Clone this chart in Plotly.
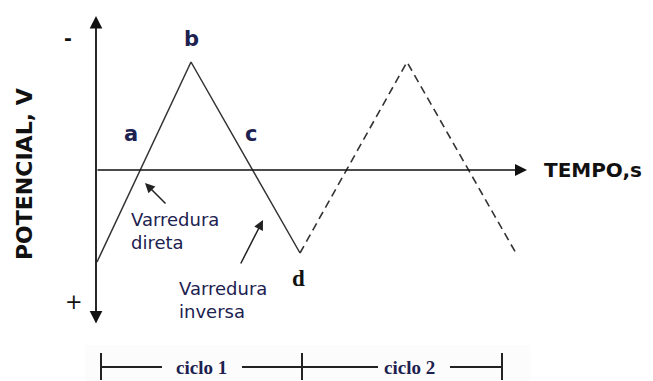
import plotly.graph_objects as go

# voltametria ciclica - onda triangular (tempo em s, potencial com eixo invertido)
cycle1_t = [0.02, 1.90, 4.08]
cycle1_E = [1.84, -2.16, 1.66]
cycle2_t = [4.08, 6.22, 8.42]
cycle2_E = [1.66, -2.16, 1.70]

point_labels = ['a', 'b', 'c', 'd']
point_t = [0.70, 1.90, 3.10, 4.04]
point_E = [-0.72, -2.62, -0.72, 2.16]
point_fonts = ['DejaVu Sans', 'DejaVu Sans', 'DejaVu Sans', 'Liberation Serif']

cycle_names = ['ciclo 1', 'ciclo 2']
cycle_bounds = [0.10, 4.12, 8.12]
cycle_text_t = [2.10, 6.26]
cycle_E = 3.94

X_RANGE = [-1.92, 11.14]
Y_RANGE = [4.22, -3.40]

ink = '#111111'
blue_ink = '#1c2150'

fig = go.Figure()
fig.add_trace(go.Scatter(x=cycle1_t, y=cycle1_E, mode='lines',
                         line=dict(color='#333333', width=1.5)))
fig.add_trace(go.Scatter(x=cycle2_t, y=cycle2_E, mode='lines',
                         line=dict(color='#333333', width=1.6, dash='8px,5px')))

# barra dos ciclos
seg_x = [cycle_bounds[0], cycle_text_t[0] - 0.78, None,
         cycle_text_t[0] + 0.82, cycle_text_t[1] - 0.62, None,
         cycle_text_t[1] + 0.82, cycle_bounds[2]]
seg_y = [cycle_E if v is not None else None for v in seg_x]
fig.add_trace(go.Scatter(x=seg_x, y=seg_y, mode='lines',
                         line=dict(color='#222222', width=1.8)))
tick_x, tick_y = [], []
for b in cycle_bounds:
    tick_x += [b, b, None]
    tick_y += [cycle_E - 0.28, cycle_E + 0.26, None]
fig.add_trace(go.Scatter(x=tick_x, y=tick_y, mode='lines',
                         line=dict(color='#222222', width=2)))

shapes = [dict(type='rect', xref='x', yref='y', x0=-0.22, x1=8.68, y0=3.5, y1=4.3,
               fillcolor='#fcfcfc', line=dict(width=0), layer='below')]

ann = []
# eixos com setas
ann.append(dict(x=0, y=-3.08, ax=0, ay=3.10, xref='x', yref='y', axref='x', ayref='y',
                showarrow=True, arrowhead=2, startarrowhead=2, arrowside='end+start',
                arrowsize=1.4, startarrowsize=1.4, arrowwidth=1.8, arrowcolor=ink, text=''))
ann.append(dict(x=8.62, y=0, ax=0, ay=0, xref='x', yref='y', axref='x', ayref='y',
                showarrow=True, arrowhead=2, arrowsize=1.5, arrowwidth=1.6,
                arrowcolor=ink, text=''))
# setas das varreduras
ann.append(dict(x=0.98, y=0.26, ax=1.42, ay=0.70, xref='x', yref='y', axref='x', ayref='y',
                showarrow=True, arrowhead=2, arrowsize=1.3, arrowwidth=1.5,
                arrowcolor='#222222', text=''))
ann.append(dict(x=3.34, y=1.00, ax=2.88, ay=1.90, xref='x', yref='y', axref='x', ayref='y',
                showarrow=True, arrowhead=2, arrowsize=1.3, arrowwidth=1.5,
                arrowcolor='#222222', text=''))

for lab, t, e, f in zip(point_labels, point_t, point_E, point_fonts):
    ann.append(dict(x=t, y=e, text=lab, showarrow=False,
                    font=dict(family=f, size=21 if f != 'Liberation Serif' else 23,
                              color=blue_ink if f != 'Liberation Serif' else ink,
                              weight='bold')))

ann.append(dict(x=-0.56, y=-2.64, text='-', showarrow=False,
                font=dict(family='DejaVu Sans', size=19, color=ink, weight='bold')))
ann.append(dict(x=-0.44, y=2.64, text='+', showarrow=False,
                font=dict(family='DejaVu Sans', size=21, color=ink)))
ann.append(dict(x=8.92, y=0, text='TEMPO,s', showarrow=False, xanchor='left',
                font=dict(family='DejaVu Sans', size=20, color=ink, weight='bold')))
ann.append(dict(x=-1.44, y=0.08, text='POTENCIAL, V', showarrow=False, textangle=-90,
                font=dict(family='DejaVu Sans', size=22, color=ink, weight='bold')))
ann.append(dict(x=0.66, y=0.74, text='Varredura<br>direta', showarrow=False,
                xanchor='left', yanchor='top', align='left',
                font=dict(family='DejaVu Sans', size=18, color=blue_ink)))
ann.append(dict(x=1.62, y=2.12, text='Varredura<br>inversa', showarrow=False,
                xanchor='left', yanchor='top', align='left',
                font=dict(family='DejaVu Sans', size=18, color=blue_ink)))
for name, t in zip(cycle_names, cycle_text_t):
    ann.append(dict(x=t, y=cycle_E, text=name, showarrow=False,
                    font=dict(family='Liberation Serif', size=19, color=blue_ink,
                              weight='bold')))

fig.update_layout(
    width=653, height=381,
    margin=dict(l=0, r=0, t=0, b=0),
    paper_bgcolor='white', plot_bgcolor='white',
    showlegend=False,
    xaxis=dict(range=X_RANGE, visible=False, fixedrange=True),
    yaxis=dict(range=Y_RANGE, visible=False, fixedrange=True),
    shapes=shapes,
    annotations=ann,
)
fig.write_html("out.html", config={'displayModeBar': False},
               post_script="document.body.style.margin='0';")
